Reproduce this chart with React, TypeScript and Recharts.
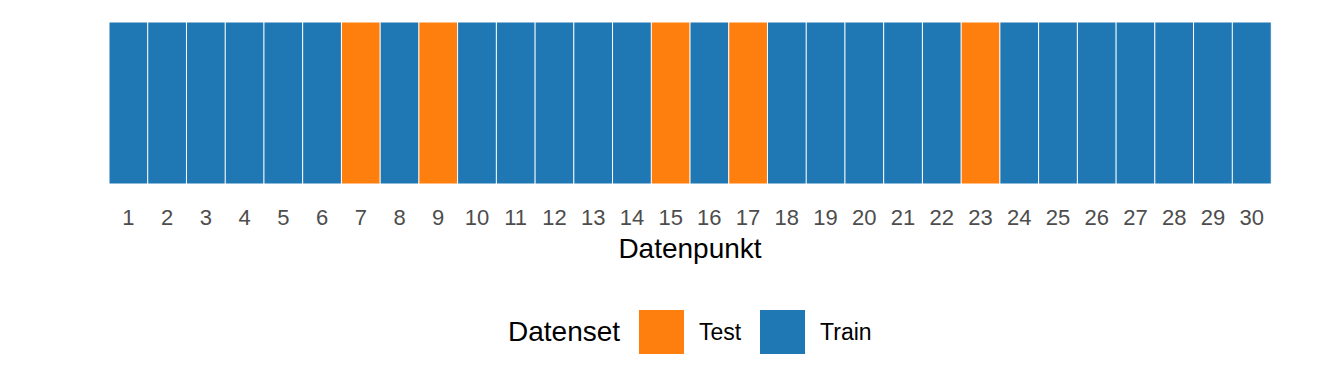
import React from "react";
import { BarChart, Bar, XAxis, YAxis, Cell } from "recharts";

// ─── Data ─────────────────────────────────────────────────────────────────────

const POINTS: string[] = Array.from({ length: 30 }, (_, i) => String(i + 1));

const DATASET: string[] = [
  "Train", "Train", "Train", "Train", "Train", "Train", "Test", "Train", "Test", "Train",
  "Train", "Train", "Train", "Train", "Test", "Train", "Test", "Train", "Train", "Train",
  "Train", "Train", "Test", "Train", "Train", "Train", "Train", "Train", "Train", "Train",
];

const LEGEND_ITEMS: string[] = ["Test", "Train"];

const COLORS: Record<string, string> = {
  Test: "#FF7F0E",
  Train: "#1F77B4",
};

const DATA = POINTS.map((name, i) => ({ name, set: DATASET[i], tile: 1 }));

// ─── Styles ───────────────────────────────────────────────────────────────────

const FONT = "'Liberation Sans', Arial, sans-serif";

const TICK_STYLE = {
  fontFamily: FONT,
  fontSize: 22,
  fill: "#4D4D4D",
};

function AxisTitle(props: any) {
  const vb = props.viewBox ?? {};
  return (
    <text
      x={vb.x + vb.width / 2}
      y={vb.y + 74}
      textAnchor="middle"
      fontFamily={FONT}
      fontSize={28}
      fill="#000000"
    >
      Datenpunkt
    </text>
  );
}

function DatasetLegend() {
  return (
    <div
      style={{
        position: "absolute",
        left: 508,
        top: 310,
        display: "flex",
        alignItems: "center",
        fontFamily: FONT,
        color: "#000000",
        height: 44,
      }}
    >
      <span style={{ fontSize: 28, marginRight: 19 }}>Datenset</span>
      {LEGEND_ITEMS.map((item) => (
        <React.Fragment key={item}>
          <span
            style={{
              width: 45,
              height: 44,
              background: COLORS[item],
              display: "inline-block",
              marginRight: 15,
            }}
          />
          <span style={{ fontSize: 23, width: 61, display: "inline-block" }}>{item}</span>
        </React.Fragment>
      ))}
    </div>
  );
}

export default function App() {
  return (
    <div style={{ position: "absolute", left: 0, top: 0, width: 1344, height: 384, background: "#fff" }}>
      <BarChart
        width={1344}
        height={384}
        data={DATA}
        margin={{ top: 22, right: 73, left: 109, bottom: 110 }}
        barCategoryGap={0}
        barGap={0}
      >
        <XAxis
          dataKey="name"
          interval={0}
          height={90}
          tickLine={false}
          axisLine={false}
          tickSize={0}
          tickMargin={25}
          tick={TICK_STYLE}
          label={<AxisTitle />}
        />
        <YAxis hide domain={[0, 1]} />
        <Bar dataKey="tile" stroke="#FFFFFF" strokeWidth={1} isAnimationActive={false}>
          {DATA.map((d) => (
            <Cell key={d.name} fill={COLORS[d.set]} />
          ))}
        </Bar>
      </BarChart>
      <DatasetLegend />
    </div>
  );
}
